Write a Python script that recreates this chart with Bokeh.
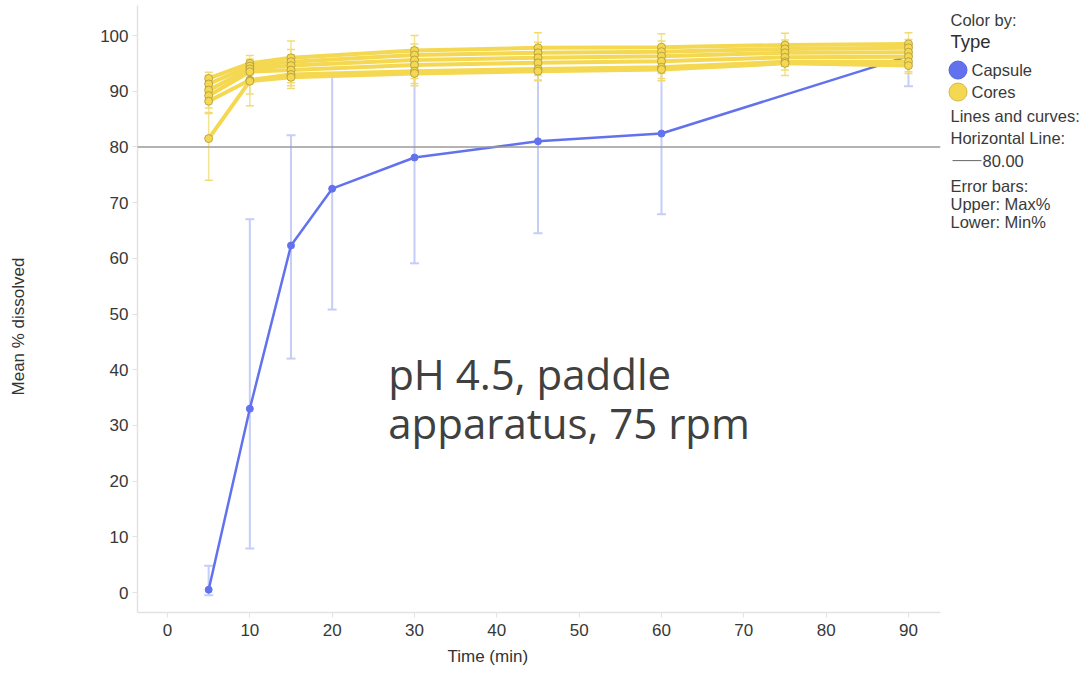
import math
from bokeh.plotting import figure
from bokeh.models import (ColumnDataSource, Range1d, FixedTicker, Whisker, TeeHead,
                          Span, Label, Title)
from bokeh.layouts import row
from bokeh.embed import file_html
from bokeh.resources import INLINE
from bokeh.core.properties import value

# ---------------- data ----------------
time_capsule = [5, 10, 15, 20, 30, 45, 60, 90]
capsule_mean = [0.5, 33.0, 62.3, 72.5, 78.1, 81.0, 82.4, 96.3]
capsule_max = [4.8, 67.0, 82.1, 92.6, 96.5, 97.0, 97.2, 98.0]
capsule_min = [-0.5, 7.9, 42.0, 50.8, 59.1, 64.5, 67.9, 90.9]

time_cores = [5, 10, 15, 30, 45, 60, 75, 90]
cores_a_mean = [92.3, 95.0, 96.0, 97.3, 97.8, 97.9, 98.3, 98.5]
cores_a_max = [93.4, 96.4, 99.0, 100.0, 100.5, 100.3, 100.4, 100.5]
cores_a_min = [90.5, 93.5, 94.0, 95.0, 95.5, 95.6, 96.5, 96.8]
cores_b_mean = [91.3, 94.5, 95.3, 96.5, 96.9, 97.1, 97.6, 97.8]
cores_b_max = [92.8, 95.8, 97.5, 98.5, 98.8, 99.0, 99.2, 99.3]
cores_b_min = [89.8, 93.0, 93.5, 94.2, 94.8, 95.0, 96.0, 96.2]
cores_c_mean = [90.2, 94.0, 94.6, 95.6, 96.0, 96.3, 96.9, 97.0]
cores_c_max = [91.8, 95.5, 96.5, 97.8, 98.0, 98.2, 98.5, 98.6]
cores_c_min = [88.5, 92.0, 92.5, 93.2, 93.8, 94.0, 95.2, 95.5]
cores_d_mean = [89.2, 93.5, 93.8, 94.7, 95.1, 95.4, 96.1, 96.2]
cores_d_max = [90.8, 95.0, 96.0, 97.0, 97.2, 97.5, 97.8, 98.0]
cores_d_min = [87.0, 91.5, 91.5, 92.3, 92.8, 93.2, 94.5, 94.5]
cores_e_mean = [88.2, 92.0, 93.0, 93.6, 94.0, 94.3, 95.3, 95.3]
cores_e_max = [89.5, 93.8, 95.0, 95.8, 96.2, 96.5, 97.0, 97.2]
cores_e_min = [86.2, 89.5, 91.0, 91.4, 92.0, 92.3, 93.8, 93.5]
cores_f_mean = [81.5, 91.8, 92.5, 93.2, 93.6, 93.9, 95.0, 94.6]
cores_f_max = [86.0, 93.5, 94.5, 95.2, 95.5, 95.8, 96.8, 96.5]
cores_f_min = [74.0, 87.4, 90.5, 91.0, 91.9, 91.9, 92.8, 93.2]

x_ticks = [0, 10, 20, 30, 40, 50, 60, 70, 80, 90]
y_ticks = [0, 10, 20, 30, 40, 50, 60, 70, 80, 90, 100]
x_title = "Time (min)"
y_title = "Mean % dissolved"
ref_level = 80.0
ref_label = "80.00"
annotation_lines = ["pH 4.5, paddle", "apparatus, 75 rpm"]
legend_types = ["Capsule", "Cores"]

# ---------------- styles ----------------
BLUE = "#6272ee"
BLUE_ERR = "#c6cdf7"
YELLOW = "#f4d852"
YELLOW_EDGE = "#ad973c"
YELLOW_ERR = "#f1dc74"
AXIS = "#e2e2e2"
TXT = "#3a3a3a"
FONT = "Liberation Sans"
H = 677

# ---------------- y title strip ----------------
ys = figure(width=36, height=H, x_range=Range1d(0, 36), y_range=Range1d(H, 0),
            output_backend="svg", toolbar_location=None, min_border=0,
            x_axis_type=None, y_axis_type=None)
ys.outline_line_color = None
ys.text(x=[18], y=[358], text=[y_title], angle=math.pi / 2,
        text_font=value(FONT), text_font_size="17px", text_color="#333333",
        text_align="center", text_baseline="middle")

# ---------------- main plot ----------------
p = figure(width=908, height=H,
           x_range=Range1d(-3.644, 93.89), y_range=Range1d(-3.59, 105.39),
           output_backend="svg", toolbar_location=None,
           min_border_left=101, min_border_right=4,
           min_border_top=5, min_border_bottom=65)
p.outline_line_color = None
p.grid.visible = False
p.background_fill_color = "white"

p.xaxis.ticker = FixedTicker(ticks=x_ticks)
p.yaxis.ticker = FixedTicker(ticks=y_ticks)
for ax in (p.xaxis[0], p.yaxis[0]):
    ax.axis_line_color = AXIS
    ax.axis_line_width = 1.5
    ax.major_tick_line_color = AXIS
    ax.major_tick_out = 5
    ax.major_tick_in = 0
    ax.minor_tick_line_color = None
    ax.major_label_text_font = FONT
    ax.major_label_text_font_size = "17px"
    ax.major_label_text_color = "#383838"
p.xaxis.major_label_standoff = 6
p.yaxis.major_label_standoff = 4

p.add_layout(Title(text=x_title, align="left", offset=310, standoff=13,
                   text_font=FONT, text_font_size="17px", text_font_style="normal",
                   text_color="#333333"), "below")

# capsule series
cap_src = ColumnDataSource(dict(t=time_capsule, m=capsule_mean,
                                hi=capsule_max, lo=capsule_min))
cap_w = Whisker(source=cap_src, base="t", upper="hi", lower="lo",
                line_color=BLUE_ERR, line_width=2, level="underlay",
                upper_head=TeeHead(size=9, line_color=BLUE_ERR, line_width=2),
                lower_head=TeeHead(size=9, line_color=BLUE_ERR, line_width=2))
p.add_layout(cap_w)
p.line("t", "m", source=cap_src, line_color=BLUE, line_width=2.5)
p.scatter("t", "m", source=cap_src, size=7, fill_color=BLUE, line_color=BLUE)

# cores series
cores = [
    (cores_a_mean, cores_a_max, cores_a_min),
    (cores_b_mean, cores_b_max, cores_b_min),
    (cores_c_mean, cores_c_max, cores_c_min),
    (cores_d_mean, cores_d_max, cores_d_min),
    (cores_e_mean, cores_e_max, cores_e_min),
    (cores_f_mean, cores_f_max, cores_f_min),
]
core_srcs = []
for m, hi, lo in cores:
    src = ColumnDataSource(dict(t=time_cores, m=m, hi=hi, lo=lo))
    core_srcs.append(src)
    w = Whisker(source=src, base="t", upper="hi", lower="lo",
                line_color=YELLOW_ERR, line_width=1.5, line_alpha=0.8, level="underlay",
                upper_head=TeeHead(size=8, line_color=YELLOW_ERR, line_width=1.5),
                lower_head=TeeHead(size=8, line_color=YELLOW_ERR, line_width=1.5))
    p.add_layout(w)
for src in core_srcs:
    p.line("t", "m", source=src, line_color=YELLOW, line_width=4)
for src in core_srcs:
    p.scatter("t", "m", source=src, size=8, fill_color=YELLOW,
              line_color=YELLOW_EDGE, line_width=1, line_alpha=0.8)

# reference line
p.add_layout(Span(location=ref_level, dimension="width",
                  line_color="#9a9a9a", line_width=1.5))

# annotation text
for txt, yv in zip(annotation_lines, [39.3, 30.5]):
    p.add_layout(Label(x=26.8, y=yv, text=txt, text_font="Open Sans",
                       text_font_size="42px", text_color="#404040",
                       text_baseline="alphabetic", text_align="left"))

# ---------------- legend panel ----------------
lg = figure(width=145, height=H, x_range=Range1d(944, 1089),
            y_range=Range1d(H, 0), output_backend="svg",
            toolbar_location=None, min_border=0,
            x_axis_type=None, y_axis_type=None)
lg.outline_line_color = None
lg.background_fill_color = "white"

hdr = ColumnDataSource(dict(
    x=[950, 950, 950, 950, 950, 950],
    y=[16, 123, 148, 201, 221, 242],
    s=["Color by:", "Lines and curves:", "Horizontal Line:",
       "Error bars:", "Upper: Max%", "Lower: Min%"]))
lg.text("x", "y", text="s", source=hdr, text_font=value(FONT),
        text_font_size="16.5px", text_color=TXT, text_baseline="middle")
lg.text(x=[950], y=[40], text=["Type"], text_font=value(FONT),
        text_font_size="18.5px", text_color="#2e2e2e", text_baseline="middle")

leg_src = ColumnDataSource(dict(x=[957.5, 957.5], y=[72, 96.5], s=legend_types,
                                fc=[BLUE, YELLOW], lc=["#5566dd", "#d3b94a"],
                                tx=[971, 971]))
lg.scatter("x", "y", source=leg_src, size=18, fill_color="fc", line_color="lc")
lg.text("tx", "y", text="s", source=leg_src, text_font=value(FONT),
        text_font_size="16.5px", text_color=TXT, text_baseline="middle")

lg.segment(x0=[952], y0=[173], x1=[981], y1=[173], line_color="#666666", line_width=1)
lg.text(x=[982], y=[173], text=[ref_label], text_font=value(FONT),
        text_font_size="16.5px", text_color=TXT, text_baseline="middle")

layout = row(ys, p, lg)
open("out.html", "w").write(file_html(layout, INLINE))
